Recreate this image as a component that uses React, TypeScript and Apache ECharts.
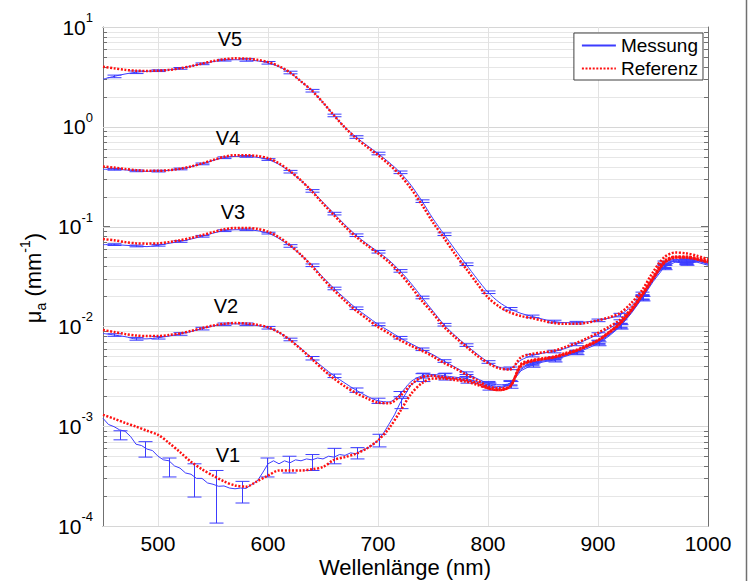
import React, { useEffect, useRef } from "react";
import * as echarts from "echarts";

// ---------- DATA ----------
const wl = [450,460,470,480,490,500,510,520,530,540,550,560,570,580,590,600,610,620,630,640,650,660,670,680,690,700,710,720,730,740,750,760,770,780,790,800,810,820,830,840,850,860,870,880,890,900,910,920,930,940,950,960,970,980,990,1000];

// Referenz (red dotted)
const refV5 = [4.0,3.85,3.72,3.65,3.63,3.65,3.72,3.85,4.05,4.3,4.55,4.75,4.85,4.82,4.7,4.45,4.05,3.5,2.85,2.3,1.75,1.3,0.98,0.77,0.63,0.52,0.42,0.33,0.24,0.165,0.11,0.077,0.053,0.038,0.027,0.0195,0.0158,0.0138,0.0127,0.0121,0.0114,0.0108,0.0106,0.0106,0.0109,0.0115,0.0123,0.0136,0.017,0.023,0.035,0.049,0.055,0.054,0.051,0.047];
const refV4 = [0.40,0.39,0.378,0.368,0.362,0.362,0.368,0.38,0.40,0.43,0.465,0.50,0.52,0.52,0.51,0.485,0.43,0.36,0.29,0.225,0.17,0.13,0.10,0.079,0.065,0.054,0.044,0.034,0.025,0.018,0.0135,0.0099,0.0078,0.0063,0.0051,0.0043,0.0038,0.0037,0.0049,0.0053,0.0055,0.0057,0.0062,0.0068,0.0076,0.0086,0.0099,0.0116,0.015,0.0207,0.031,0.044,0.05,0.05,0.048,0.045];
const refV3 = [0.075,0.073,0.070,0.068,0.0675,0.068,0.070,0.073,0.077,0.082,0.088,0.094,0.097,0.097,0.095,0.089,0.078,0.065,0.052,0.040,0.030,0.023,0.018,0.0144,0.0119,0.0099,0.0085,0.0073,0.0064,0.0057,0.0050,0.0043,0.0038,0.0033,0.0029,0.0025,0.0024,0.0025,0.0042,0.0046,0.0048,0.005,0.0054,0.0058,0.0065,0.0073,0.0088,0.0108,0.0145,0.021,0.031,0.045,0.050,0.050,0.048,0.045];
const refV2 = [0.0092,0.0088,0.0084,0.0081,0.0080,0.0080,0.0082,0.0085,0.0090,0.0096,0.0102,0.0106,0.0108,0.0107,0.0104,0.0098,0.0087,0.0073,0.0059,0.0047,0.0037,0.0030,0.0025,0.00215,0.0019,0.00172,0.0017,0.0020,0.0026,0.0031,0.0032,0.0031,0.0030,0.0029,0.0027,0.0024,0.0023,0.0025,0.0040,0.0045,0.0047,0.0049,0.0053,0.0057,0.0064,0.0072,0.0087,0.0107,0.0143,0.0205,0.030,0.043,0.049,0.049,0.047,0.044];
const refV1 = [0.0013,0.00119,0.00108,0.00099,0.0009,0.00082,0.00068,0.00055,0.00044,0.00037,0.00032,0.00028,0.000255,0.000248,0.00028,0.00032,0.00036,0.00036,0.00036,0.00037,0.00039,0.00046,0.00049,0.00053,0.0006,0.00072,0.00095,0.0014,0.0021,0.0027,0.0030,0.0030,0.0029,0.0028,0.0026,0.0024,0.0023,0.0025,0.0041,0.0045,0.0047,0.0049,0.0052,0.0057,0.0063,0.0072,0.0086,0.0106,0.0142,0.0203,0.030,0.043,0.049,0.049,0.047,0.044];

// Messung (blue)
const mesV5 = [3.0,3.2,3.38,3.52,3.6,3.65,3.72,3.85,4.05,4.28,4.5,4.65,4.7,4.68,4.58,4.38,4.0,3.5,2.85,2.3,1.75,1.3,0.99,0.79,0.65,0.54,0.44,0.35,0.26,0.18,0.12,0.084,0.059,0.042,0.03,0.022,0.0175,0.015,0.0135,0.0126,0.0118,0.0112,0.0109,0.0109,0.0111,0.0115,0.0121,0.013,0.0158,0.021,0.031,0.043,0.047,0.046,0.047,0.044];
const mesV4 = [0.375,0.375,0.37,0.362,0.358,0.36,0.366,0.378,0.398,0.425,0.46,0.49,0.505,0.505,0.495,0.47,0.42,0.355,0.29,0.228,0.175,0.135,0.104,0.082,0.067,0.056,0.046,0.036,0.027,0.0195,0.0142,0.0104,0.0081,0.0065,0.0053,0.0044,0.0039,0.0038,0.0046,0.0051,0.0054,0.0056,0.006,0.0066,0.0074,0.0083,0.0095,0.0112,0.0145,0.0198,0.03,0.041,0.046,0.045,0.046,0.043];
const mesV3 = [0.066,0.066,0.065,0.064,0.063,0.065,0.068,0.071,0.075,0.08,0.086,0.091,0.093,0.093,0.091,0.086,0.076,0.064,0.052,0.041,0.031,0.024,0.019,0.0152,0.0126,0.0105,0.009,0.0077,0.0067,0.0059,0.0052,0.0045,0.0039,0.0034,0.003,0.0027,0.0026,0.0027,0.0038,0.0043,0.0046,0.0048,0.0052,0.0056,0.0063,0.007,0.0083,0.0102,0.0138,0.0195,0.029,0.04,0.045,0.044,0.045,0.042];
const mesV2 = [0.0085,0.0082,0.0079,0.0075,0.0075,0.0077,0.008,0.0084,0.0089,0.0095,0.0101,0.0105,0.0106,0.0105,0.0102,0.0097,0.0087,0.0074,0.006,0.0048,0.0039,0.0032,0.0027,0.0023,0.002,0.0018,0.00175,0.0021,0.0028,0.0032,0.0033,0.0032,0.0031,0.003,0.0028,0.0026,0.0025,0.0027,0.0037,0.0042,0.0045,0.0047,0.0051,0.0055,0.0062,0.0069,0.0082,0.0101,0.0137,0.0193,0.029,0.04,0.045,0.044,0.045,0.042];

const wlV1Fine = [450,455,460,465,470,475,480,485,490,495,500,505,510,515,520,525,530,535,540,545,550,555,560,565,570,575,580,585,590,595,600,605,610,615,620,625,630,635,640,645,650,655,660,665,670,675,680,685,690,695,700,705,710,715,720];
const mesV1Fine = [0.00120,0.00104,0.00099,0.00092,0.00089,0.00079,0.00066,0.00064,0.00059,0.00057,0.00050,0.00046,0.00045,0.00040,0.00038,0.00034,0.00033,0.00030,0.00030,0.00027,0.000262,0.00025,0.000252,0.00024,0.000236,0.00024,0.000238,0.00026,0.00028,0.00034,0.00042,0.00045,0.00042,0.00045,0.00043,0.00046,0.00045,0.00047,0.00046,0.00048,0.00047,0.0005,0.00049,0.00052,0.00051,0.00054,0.00053,0.00057,0.0006,0.00065,0.00072,0.00085,0.00105,0.0013,0.0017];
const wlV1Coarse = [730,740,750,760,770,780,790,800,810,820,830,840,850,860,870,880,890,900,910,920,930,940,950,960,970,980,990,1000];
const mesV1Coarse = [0.0026,0.0031,0.0032,0.0031,0.003,0.0029,0.0027,0.0025,0.0024,0.0026,0.0036,0.0041,0.0044,0.0046,0.005,0.0054,0.006,0.0067,0.008,0.0099,0.0134,0.019,0.028,0.039,0.044,0.043,0.044,0.041];

// error bars of V1: [wavelength, low, high]
const barsV1 = [
  [465, 0.00073, 0.0009], [488, 0.00049, 0.0007], [510, 0.00031, 0.00048], [533, 0.000195, 0.00042],
  [553, 0.000107, 0.00036], [576, 0.00017, 0.00028], [599, 0.00031, 0.00048], [619, 0.00034, 0.0005],
  [640, 0.00036, 0.00052], [660, 0.00042, 0.0006], [681, 0.00047, 0.00061], [701, 0.00062, 0.00083],
  [721, 0.0015, 0.0019], [741, 0.0028, 0.0034], [761, 0.0029, 0.0034], [781, 0.0027, 0.0031],
  [801, 0.0023, 0.0027], [821, 0.0024, 0.0028], [841, 0.0039, 0.0043], [861, 0.0044, 0.0048],
  [881, 0.0052, 0.0056], [901, 0.0064, 0.007], [921, 0.0094, 0.0104], [941, 0.018, 0.02],
  [961, 0.037, 0.041], [981, 0.041, 0.045],
];
// error bar positions for V2..V5 and relative half-widths
const barWl = [460,480,500,520,540,560,580,600,620,640,660,680,700,720,740,760,780,800,820,840,860,880,900,920,940,960,980];
const errV5 = [0.03,0.03,0.02,0.02,0.02,0.02,0.03,0.03,0.03,0.03,0.03,0.03,0.03,0.03,0.03,0.03,0.03,0.03,0.03,0.03,0.03,0.03,0.03,0.04,0.05,0.05,0.05];
const errV4 = [0.02,0.02,0.02,0.02,0.02,0.02,0.02,0.02,0.03,0.03,0.03,0.03,0.03,0.03,0.03,0.03,0.03,0.03,0.03,0.03,0.03,0.03,0.04,0.04,0.05,0.05,0.05];
const errV3 = [0.02,0.02,0.02,0.02,0.02,0.02,0.02,0.02,0.03,0.03,0.03,0.03,0.03,0.03,0.03,0.03,0.03,0.04,0.04,0.03,0.03,0.03,0.04,0.04,0.05,0.05,0.05];
const errV2 = [0.03,0.03,0.03,0.03,0.03,0.03,0.03,0.03,0.03,0.04,0.04,0.05,0.06,0.06,0.05,0.05,0.05,0.05,0.06,0.04,0.04,0.04,0.04,0.05,0.05,0.05,0.06];

const xTicks = [500, 600, 700, 800, 900, 1000];
const curveLabels = ["V5", "V4", "V3", "V2", "V1"];

// ---------- STYLE ----------
const FONT = "'Liberation Sans', Arial, Helvetica, sans-serif";
const BLUE = "#3c3cff";
const RED = "#ff1010";
const AX = "#707070";

const pairs = (xs: number[], ys: number[]) => xs.map((x, i) => [x, ys[i]]);

function barsFrom(mes: number[], err: number[]) {
  return barWl.map((w, i) => {
    const v = mes[wl.indexOf(w)];
    return [w, v * (1 - err[i]), v * (1 + err[i])];
  });
}

export default function App() {
  const ref = useRef<HTMLDivElement>(null);
  useEffect(() => {
    if (!ref.current) return;
    const chart = echarts.init(ref.current, undefined, { renderer: "svg" });

    const gridData: number[][] = [];
    for (let d = -4; d <= 1; d++) {
      gridData.push([450, Math.pow(10, d), 1]);
      if (d < 1) for (let m = 2; m <= 9; m++) gridData.push([450, m * Math.pow(10, d), 0]);
    }
    xTicks.slice(0, 5).forEach((x) => gridData.push([x, 1e-4, 2]));

    const gridSeries = {
      type: "custom",
      name: "grid",
      silent: true,
      z: 1,
      data: gridData,
      encode: { x: 0, y: 1 },
      renderItem: (params: any, api: any) => {
        const kind = api.value(2);
        if (kind === 2) {
          const a = api.coord([api.value(0), 1e-4]);
          const b = api.coord([api.value(0), 10]);
          const x = Math.round(a[0]) + 0.5;
          return { type: "line", shape: { x1: x, y1: a[1], x2: x, y2: b[1] }, style: { stroke: "#e2e2e2", lineWidth: 1 } };
        }
        const v = api.value(1);
        const a = api.coord([450, v]);
        const b = api.coord([1000, v]);
        const y = Math.round(a[1]) + 0.5;
        const children: any[] = [
          { type: "line", shape: { x1: a[0], y1: y, x2: b[0], y2: y }, style: { stroke: kind === 1 ? "#d6d6d6" : "#e6e6e6", lineWidth: 1 } },
        ];
        if (kind === 0) {
          children.push({ type: "line", shape: { x1: a[0], y1: y, x2: a[0] + 4, y2: y }, style: { stroke: AX, lineWidth: 1 } });
          children.push({ type: "line", shape: { x1: b[0] - 4, y1: y, x2: b[0], y2: y }, style: { stroke: AX, lineWidth: 1 } });
        }
        return { type: "group", children };
      },
    };

    const errRender = (params: any, api: any) => {
      const x = api.value(0);
      const p1 = api.coord([x, api.value(1)]);
      const p2 = api.coord([x, api.value(2)]);
      const cx = Math.round(p1[0]) + 0.5;
      const w = 7;
      const st = { stroke: BLUE, lineWidth: 1 };
      return {
        type: "group",
        children: [
          { type: "line", shape: { x1: cx, y1: p1[1], x2: cx, y2: p2[1] }, style: st },
          { type: "line", shape: { x1: cx - w, y1: p1[1], x2: cx + w, y2: p1[1] }, style: st },
          { type: "line", shape: { x1: cx - w, y1: p2[1], x2: cx + w, y2: p2[1] }, style: st },
        ],
      };
    };

    const mesList = [
      { data: pairs(wlV1Fine, mesV1Fine).concat(pairs(wlV1Coarse, mesV1Coarse)), smooth: false, bars: barsV1 },
      { data: pairs(wl, mesV2), smooth: 0.3, bars: barsFrom(mesV2, errV2) },
      { data: pairs(wl, mesV3), smooth: 0.3, bars: barsFrom(mesV3, errV3) },
      { data: pairs(wl, mesV4), smooth: 0.3, bars: barsFrom(mesV4, errV4) },
      { data: pairs(wl, mesV5), smooth: 0.3, bars: barsFrom(mesV5, errV5) },
    ];
    const refList = [refV1, refV2, refV3, refV4, refV5];

    const series: any[] = [gridSeries];
    mesList.forEach((m) => {
      series.push({
        type: "line", name: "Messung", data: m.data, smooth: m.smooth, symbol: "none", showSymbol: false,
        lineStyle: { color: BLUE, width: 1 }, itemStyle: { color: BLUE }, z: 3,
      });
      series.push({
        type: "custom", name: "err", data: m.bars, encode: { x: 0, y: [1, 2] }, renderItem: errRender, z: 4, silent: true,
      });
    });
    refList.forEach((r) => {
      series.push({
        type: "line", name: "Referenz", data: pairs(wl, r), smooth: 0.3, symbol: "none", showSymbol: false,
        lineStyle: { color: RED, width: 2.5, type: [2, 1.6] }, itemStyle: { color: RED }, z: 5,
      });
    });

    const labelPos = [[230, 39], [228, 138], [233, 212], [226, 306], [228, 455]];

    chart.setOption({
      animation: false,
      backgroundColor: "#ffffff",
      grid: { left: 103, right: 42, top: 27, bottom: 55, containLabel: false },
      legend: {
        data: ["Messung", "Referenz"],
        orient: "vertical",
        right: 47,
        top: 33,
        padding: [3, 5, 2, 7],
        itemGap: 4,
        itemWidth: 34,
        itemHeight: 14,
        backgroundColor: "#ffffff",
        borderColor: "#404040",
        borderWidth: 1,
        borderRadius: 0,
        itemStyle: { opacity: 0 },
        textStyle: { fontFamily: FONT, fontSize: 19, color: "#000", lineHeight: 19 },
      },
      xAxis: [
        {
          type: "value", min: 450, max: 1000, position: "bottom",
          axisLine: { show: true, onZero: false, lineStyle: { color: AX, width: 1 } },
          axisTick: { show: true, inside: true, length: 6, lineStyle: { color: AX }, customValues: xTicks },
          axisLabel: { customValues: xTicks, formatter: (v: number) => String(v), color: "#000", fontFamily: FONT, fontSize: 21, margin: 7 },
          splitLine: { show: false },
        },
        {
          type: "value", min: 450, max: 1000, position: "top",
          axisLine: { show: true, onZero: false, lineStyle: { color: AX, width: 1 } },
          axisTick: { show: true, inside: true, length: 6, lineStyle: { color: AX }, customValues: xTicks },
          axisLabel: { show: false },
          splitLine: { show: false },
        },
      ],
      yAxis: [
        {
          type: "log", logBase: 10, min: 1e-4, max: 10, position: "left",
          axisLine: { show: true, lineStyle: { color: AX, width: 1 } },
          axisTick: { show: true, inside: true, length: 7, lineStyle: { color: AX } },
          axisLabel: {
            margin: 10,
            formatter: (v: number) => "{b|10}{s|" + Math.round(Math.log10(v)) + "}",
            rich: {
              b: { fontFamily: FONT, fontSize: 21, color: "#000", lineHeight: 32 },
              s: { fontFamily: FONT, fontSize: 13, color: "#000", lineHeight: 13, verticalAlign: "top" },
            },
          },
          splitLine: { show: false },
        },
        {
          type: "log", logBase: 10, min: 1e-4, max: 10, position: "right",
          axisLine: { show: true, lineStyle: { color: AX, width: 1 } },
          axisTick: { show: true, inside: true, length: 7, lineStyle: { color: AX } },
          axisLabel: { show: false },
          splitLine: { show: false },
        },
      ],
      graphic: [
        ...curveLabels.map((t, i) => ({
          type: "text", x: labelPos[i][0], y: labelPos[i][1], z: 10,
          style: { text: t, fontFamily: FONT, fontSize: 20, fill: "#000", align: "center", verticalAlign: "middle" },
        })),
        {
          type: "text", x: 405, y: 567, z: 10,
          style: { text: "Wellenlänge (nm)", fontFamily: FONT, fontSize: 22, fill: "#000", align: "center", verticalAlign: "middle" },
        },
        {
          type: "text", x: 33, y: 278, rotation: Math.PI / 2, z: 10,
          style: {
            text: "{m|μ}{sub|a}{m| (mm}{sup|-1}{m|)}",
            align: "center", verticalAlign: "middle",
            rich: {
              m: { fontFamily: FONT, fontSize: 22, fill: "#000", lineHeight: 30 },
              sub: { fontFamily: FONT, fontSize: 14, fill: "#000", lineHeight: 14, verticalAlign: "bottom" },
              sup: { fontFamily: FONT, fontSize: 14, fill: "#000", lineHeight: 14, verticalAlign: "top" },
            },
          },
        },
        { type: "line", shape: { x1: 746.5, y1: 0, x2: 746.5, y2: 581 }, style: { stroke: "#707070", lineWidth: 1.5 } },
      ],
      series,
    });
    return () => chart.dispose();
  }, []);
  return <div ref={ref} style={{ position: "fixed", left: 0, top: 0, width: 750, height: 581 }} />;
}
